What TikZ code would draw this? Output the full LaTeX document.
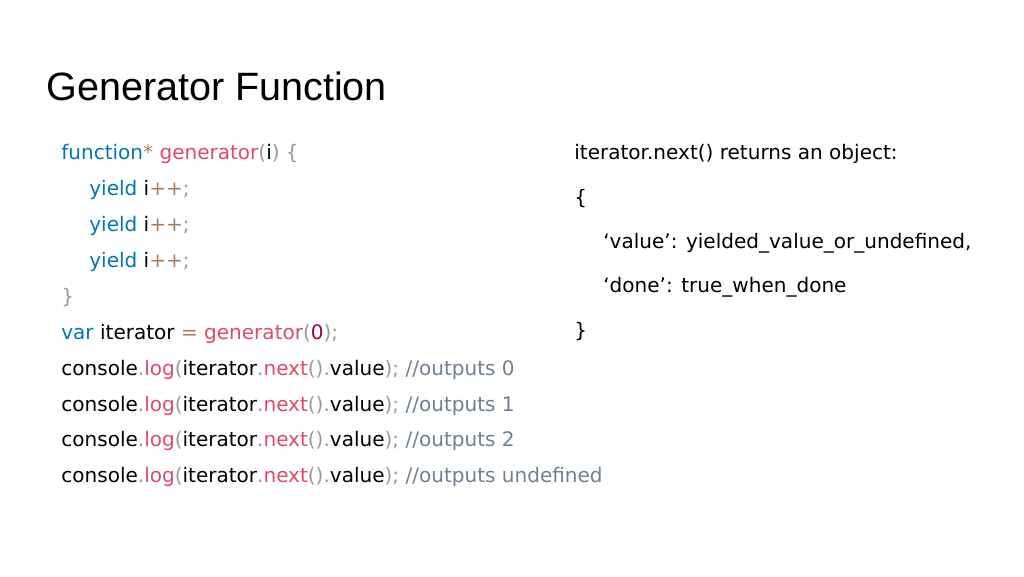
\documentclass[tikz,border=0pt]{standalone}
\usepackage{fontspec}
\setmainfont{DejaVu Sans}
\newfontfamily\titlefont{Liberation Sans}
\definecolor{kwblue}{HTML}{0077AA}
\definecolor{fnpink}{HTML}{DD4A68}
\definecolor{oppunc}{HTML}{A67F59}
\definecolor{punc}{HTML}{999999}
\definecolor{numpurp}{HTML}{990055}
\definecolor{cmtgray}{HTML}{708090}
\newcommand{\kw}[1]{\textcolor{kwblue}{#1}}
\newcommand{\fn}[1]{\textcolor{fnpink}{#1}}
\newcommand{\op}[1]{\textcolor{oppunc}{#1}}
\newcommand{\pu}[1]{\textcolor{punc}{#1}}
\newcommand{\cm}[1]{\textcolor{cmtgray}{#1}}
\newcommand{\logline}[1]{console\pu{.}\fn{log}\pu{(}iterator\pu{.}\fn{next}\pu{().}value\pu{);} \cm{//outputs #1}}

\begin{document}
\begin{tikzpicture}[x=0.02cm,y=-0.02cm,
	code/.style={anchor=base west,inner sep=0pt,font=\fontsize{11.4pt}{13pt}\selectfont}]
\useasboundingbox (0,0) rectangle (1024,576);

\node[anchor=base west,inner sep=0pt,font=\titlefont\fontsize{22.5pt}{26pt}\selectfont] (title) at (46,100) {Generator Function};

% code on the left
\node[code] (l1) at (61,159) {\kw{function}\op{*} \fn{generator}\pu{(}i\pu{) \{}};
\foreach \k in {1,2,3}{
	\node[code] (y\k) at (89,159+\k*36) {\kw{yield} i\op{++}\pu{;}};
}
\node[code] (l5) at (61,303) {\pu{\}}};
\node[code] (l6) at (61,339) {\kw{var} iterator \op{=} \fn{generator}\pu{(}\textcolor{numpurp}{0}\pu{);}};
\node[code] (c0) at (61,375) {\logline{0}};
\node[code] (c1) at (61,411) {\logline{1}};
\node[code] (c2) at (61,446) {\logline{2}};
\node[code] (c3) at (61,482) {\logline{undefined}};

% object on the right
\node[code] (r1) at (574,159) {iterator.next() returns an object:};
\node[code] (r2) at (574,204) {\{};
\node[code] (r3) at (603,248) {‘value’: yielded\_value\_or\_undefined,};
\node[code] (r4) at (603,292) {‘done’: true\_when\_done};
\node[code] (r5) at (574,337) {\}};
\end{tikzpicture}
\end{document}
